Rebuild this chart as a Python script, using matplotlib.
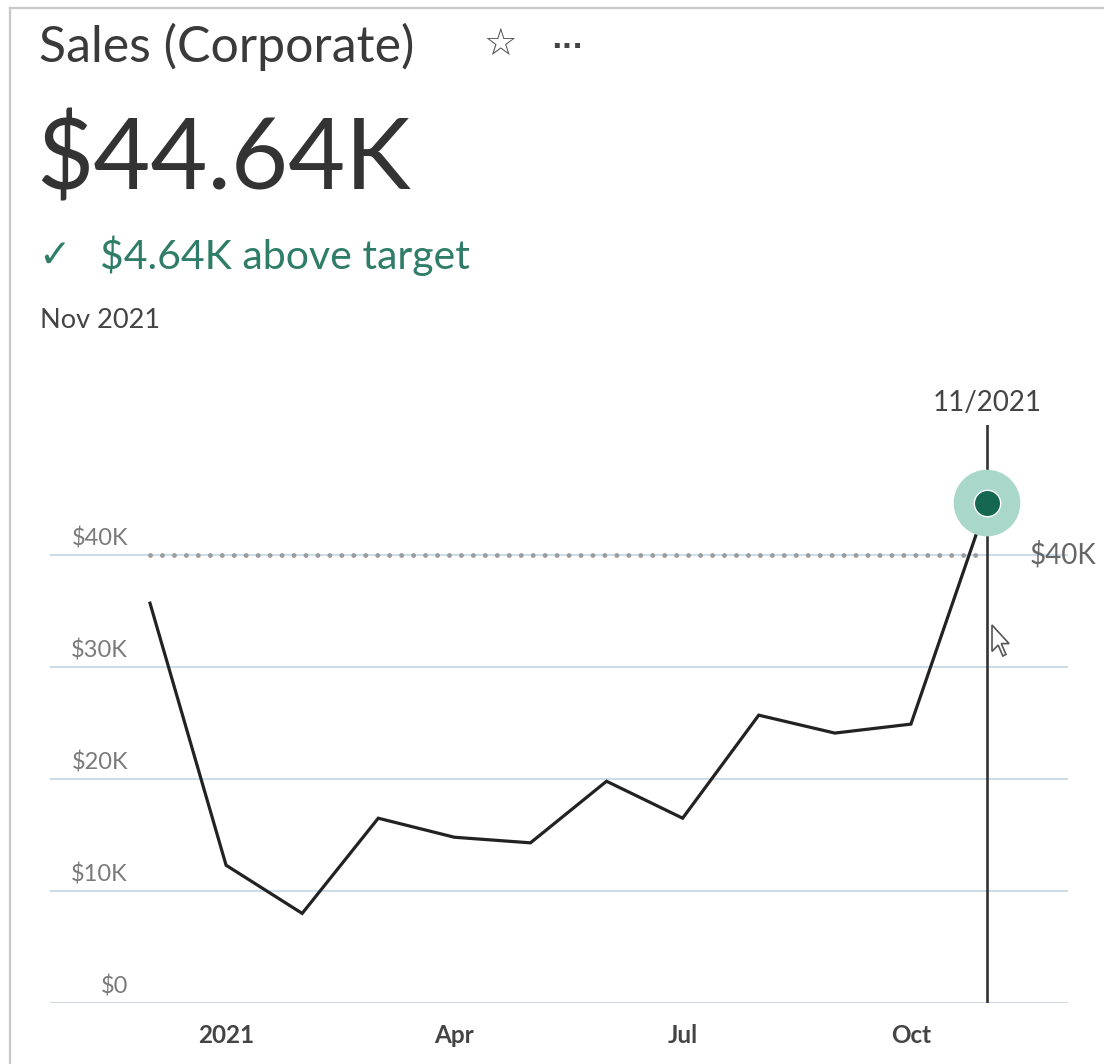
import matplotlib.pyplot as plt
from matplotlib.patches import Polygon
from matplotlib.lines import Line2D
from matplotlib.transforms import blended_transform_factory
import numpy as np

plt.rcParams['font.family'] = ['Lato', 'DejaVu Sans']

# monthly corporate sales, Dec 2020 .. Nov 2021
months = ['Dec 2020', 'Jan 2021', 'Feb 2021', 'Mar 2021', 'Apr 2021', 'May 2021',
          'Jun 2021', 'Jul 2021', 'Aug 2021', 'Sep 2021', 'Oct 2021', 'Nov 2021']
sales = [35700, 12300, 8000, 16500, 14800, 14300, 19800, 16500, 25700, 24100, 24900, 44640]
target = 40000

xtick_pos = [1, 4, 7, 10]
xtick_labels = ['2021', 'Apr', 'Jul', 'Oct']
ytick_vals = [0, 10000, 20000, 30000, 40000]
ytick_labels = ['$0', '$10K', '$20K', '$30K', '$40K']

title = 'Sales (Corporate)'
current_value = '$44.64K'
delta_text = '$4.64K above target'
period = 'Nov 2021'
sel_label = '11/2021'

W, H = 1104, 1064
fig = plt.figure(figsize=(W / 100, H / 100), dpi=100)
fig.patch.set_facecolor('white')

def px(x, y):
    # pixel position from top-left -> figure fraction
    return x / W, 1 - y / H

# card border
fig.add_artist(Line2D([10 / W, 10 / W], [0, 1 - 8 / H], color='#c8c8c8', lw=1.6))
fig.add_artist(Line2D([10 / W, 1], [1 - 8 / H, 1 - 8 / H], color='#c8c8c8', lw=1.6))

# header texts
fig.text(*px(39, 47), title, fontsize=36, color='#3a3a3a', va='center', ha='left')
fig.text(*px(500, 45), '\u2606', fontsize=27, color='#555555', va='center', ha='center',
         family='DejaVu Sans')
fig.text(*px(567, 47), '\u00b7\u00b7\u00b7', fontsize=20, color='#444444', va='center',
         ha='center', fontweight='bold', family='DejaVu Sans')
fig.text(*px(36, 160), current_value, fontsize=71, color='#333333', va='center', ha='left')
fig.text(*px(38, 256), '\u2713', fontsize=28, color='#2f7d69', va='center', ha='left',
         family='DejaVu Sans')
fig.text(*px(100, 256), delta_text, fontsize=29.5, color='#2f7d69', va='center', ha='left')
fig.text(*px(40, 320), period, fontsize=19.5, color='#444444', va='center', ha='left')

# chart area
x0, x1 = 50, 1068
y_zero, y_top = 1003, 425
px_per_month = (987 - 150) / 11
ax = fig.add_axes([x0 / W, 1 - y_zero / H, (x1 - x0) / W, (y_zero - y_top) / H])
ax.set_xlim((x0 - 150) / px_per_month, (x1 - 150) / px_per_month)
ax.set_ylim(0, (y_zero - y_top) / 112 * 10000)
for s in ax.spines.values():
    s.set_visible(False)

x = np.arange(len(months))
for v in ytick_vals:
    ax.axhline(v, color='#cddde8', lw=1.5, zorder=1)
ax.set_yticks([])

ylab_tr = blended_transform_factory(ax.transAxes, ax.transData)
for v, lab in zip(ytick_vals, ytick_labels):
    ax.annotate(lab, xy=((128 - x0) / (x1 - x0), v), xycoords=ylab_tr,
                xytext=(0, 6), textcoords='offset pixels',
                ha='right', va='bottom', fontsize=17, color='#7a7a7a')

ax.set_xticks(xtick_pos)
ax.set_xticklabels(xtick_labels, fontsize=17.5, fontweight='bold', color='#444444')
ax.tick_params(axis='x', length=0, pad=15)

# target line
ax.plot([0, 10.95], [target, target], color='#9c9c9c', lw=3.5,
        linestyle=(0, (0.01, 2.45)), dash_capstyle='round', zorder=2)
ax.annotate('$40K', xy=(1, target), xycoords=ylab_tr, xytext=(-38, 0),
            textcoords='offset pixels', ha='left', va='center', fontsize=20,
            color='#666666', annotation_clip=False)

# sales line
ax.plot(x, sales, color='#222222', lw=2.3, zorder=3, solid_joinstyle='miter')

# selected month marker
sel = len(months) - 1
ax.axvline(sel, color='#333333', lw=1.9, zorder=2)
ax.scatter([sel], [sales[sel]], s=48 ** 2, color='#a9d7ca', edgecolors='none', zorder=4)
ax.scatter([sel], [sales[sel]], s=19 ** 2, color='#15684f', edgecolors='white',
           linewidths=1.0, zorder=5)
ax.annotate(sel_label, xy=(sel, 1), xycoords=blended_transform_factory(ax.transData, ax.transAxes),
            xytext=(0, 22), textcoords='offset pixels', ha='center', va='center',
            fontsize=20, color='#444444', annotation_clip=False)

# mouse pointer
cx, cy = 992, 625
shape = np.array([(0, 0), (0, 17), (4, 13), (7, 20), (9, 19), (6, 12), (11, 12)]) * 1.55
pts = [(cx + sx, H - (cy + sy)) for sx, sy in shape]
fig.add_artist(Polygon(pts, closed=True, facecolor='white', edgecolor='#555555',
                       lw=1.2, transform=None, zorder=10))

fig.savefig('out.png', dpi=100, facecolor='white')
